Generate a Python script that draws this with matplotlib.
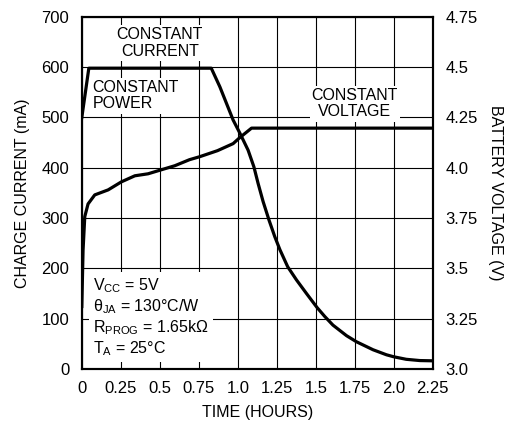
import matplotlib
matplotlib.use("Agg")
import matplotlib.pyplot as plt

plt.rcParams['font.family'] = ['Liberation Sans', 'DejaVu Sans']
plt.rcParams['mathtext.fontset'] = 'custom'
plt.rcParams['mathtext.rm'] = 'Liberation Sans'

# charge current (mA) vs time (hours)
current_t = [0.0, 0.045, 0.83, 0.885, 0.97, 1.013, 1.066, 1.103, 1.13, 1.162, 1.2,
             1.237, 1.27, 1.32, 1.376, 1.44, 1.508, 1.558, 1.61, 1.697, 1.76,
             1.867, 1.953, 2.0, 2.08, 2.167, 2.25]
current_ma = [500, 598, 598, 561, 495, 469, 435, 402, 369, 333, 296,
              263, 237, 203, 177, 150, 122, 104, 87, 66, 54,
              38, 28, 24, 19, 16.5, 16]

# battery voltage (V) vs time (hours)
volt_t = [0.0, 0.008, 0.019, 0.04, 0.083, 0.169, 0.254, 0.34, 0.425, 0.51, 0.596,
          0.69, 0.756, 0.87, 0.97, 1.013, 1.088, 2.25]
volt_v = [3.31, 3.59, 3.757, 3.82, 3.865, 3.89, 3.93, 3.96, 3.97, 3.99, 4.01,
          4.04, 4.055, 4.085, 4.12, 4.15, 4.197, 4.197]

x_ticks = [0, 0.25, 0.5, 0.75, 1.0, 1.25, 1.5, 1.75, 2.0, 2.25]
x_labels = ['0', '0.25', '0.5', '0.75', '1.0', '1.25', '1.5', '1.75', '2.0', '2.25']
y_ticks = [0, 100, 200, 300, 400, 500, 600, 700]
v_ticks = [3.0, 3.25, 3.5, 3.75, 4.0, 4.25, 4.5, 4.75]
v_labels = ['3.0', '3.25', '3.5', '3.75', '4.0', '4.25', '4.5', '4.75']

fig, ax = plt.subplots(figsize=(5.05, 4.23), dpi=100)
fig.subplots_adjust(left=0.162, right=0.857, top=0.96, bottom=0.128)

ax.set_xlim(0, 2.25)
ax.set_ylim(0, 700)
ax.set_xticks(x_ticks)
ax.set_xticklabels(x_labels)
ax.set_yticks(y_ticks)
ax.grid(True, color='black', linewidth=0.8)
ax.tick_params(length=0, labelsize=12, pad=9)
for s in ax.spines.values():
    s.set_linewidth(1.5)

ax.plot(current_t, current_ma, color='black', linewidth=2.3,
        solid_joinstyle='round', zorder=5)

ax2 = ax.twinx()
ax2.set_ylim(3.0, 4.75)
ax2.set_yticks(v_ticks)
ax2.set_yticklabels(v_labels)
ax2.tick_params(length=0, labelsize=12, pad=9)
for s in ax2.spines.values():
    s.set_linewidth(1.5)
ax2.plot(volt_t, volt_v, color='black', linewidth=2.3,
         solid_joinstyle='round', zorder=5)

ax.set_xlabel('TIME (HOURS)', fontsize=11.5, labelpad=6)
ax.set_ylabel('CHARGE CURRENT (mA)', fontsize=11.5, labelpad=8)
ax2.set_ylabel('BATTERY VOLTAGE (V)', fontsize=11.5, rotation=270, labelpad=18)

box = dict(facecolor='white', edgecolor='none', pad=1.5)
ax.text(0.5, 648, 'CONSTANT\nCURRENT', ha='center', va='center', fontsize=11.5,
        linespacing=1.1, bbox=box, zorder=6)
ax.text(0.07, 543, 'CONSTANT\nPOWER', ha='left', va='center', fontsize=11.5,
        linespacing=1.1, bbox=box, zorder=6)
ax.text(1.75, 527, 'CONSTANT\nVOLTAGE', ha='center', va='center', fontsize=11.5,
        linespacing=1.1, bbox=box, zorder=4)
ax.text(0.07, 103,
        'V$_{\\mathrm{CC}}$ = 5V\n'
        'θ$_{\\mathrm{JA}}$ = 130°C/W\n'
        'R$_{\\mathrm{PROG}}$ = 1.65kΩ\n'
        'T$_{\\mathrm{A}}$ = 25°C',
        ha='left', va='center', fontsize=11.5, linespacing=1.15,
        bbox=dict(facecolor='white', edgecolor='none', pad=3), zorder=6)

fig.savefig('out.png', dpi=100)
